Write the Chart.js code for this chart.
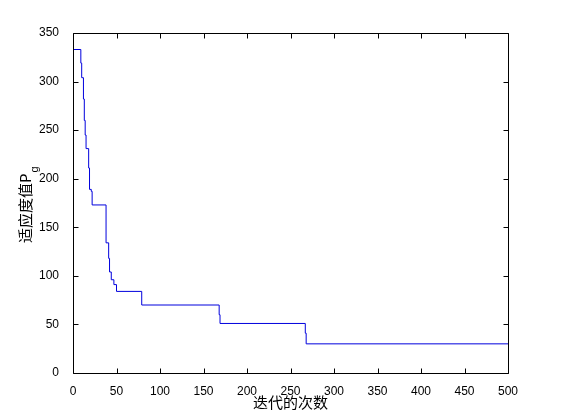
<!DOCTYPE html>
<html>
<head>
    <meta charset="utf-8">
    <title>适应度值曲线</title>
    <script src="https://cdn.jsdelivr.net/npm/chart.js"></script>
    <style>
        html, body { margin: 0; padding: 0; background: #fff; }
        #wrap { width: 561px; height: 420px; }
    </style>
</head>
<body>
    <div id="wrap"><canvas id="myChart" width="561" height="420"></canvas></div>
    <script>
        // iteration where the best value changes, and the new value from there on
        const iterations = [0, 9, 10, 12, 13, 14, 15, 18, 19, 21, 22, 38, 41, 42, 44, 47, 50, 79, 168, 169, 267, 268, 500];
        const fitness    = [333, 319, 304, 282, 260, 245, 231, 211, 189, 187, 173, 134, 118, 104, 96, 91, 84, 70, 60, 51, 41, 30, 30];
        const xTicks = [0, 50, 100, 150, 200, 250, 300, 350, 400, 450, 500];
        const yTicks = [0, 50, 100, 150, 200, 250, 300, 350];
        const xTitle = '迭代的次数';
        const yTitle = '适应度值P';
        const ySub = 'g';

        const tickFont = { family: 'Liberation Sans, Arial, sans-serif', size: 12 };
        const cjkFont = '"Noto Sans CJK SC", sans-serif';

        // caja y marcas hacia dentro, como en matlab
        const frame = {
            id: 'frame',
            afterDraw(chart) {
                const ctx = chart.ctx;
                const a = chart.chartArea;
                const xs = chart.scales.x, ys = chart.scales.y;
                const L = Math.round(a.left) + 0.5, R = Math.round(a.right) + 0.5;
                const T = Math.round(a.top) + 0.5, B = Math.round(a.bottom) + 0.5;
                ctx.save();
                ctx.strokeStyle = '#000';
                ctx.lineWidth = 1;
                ctx.beginPath();
                ctx.rect(L, T, R - L, B - T);
                xTicks.forEach(v => {
                    const px = Math.round(xs.getPixelForValue(v)) + 0.5;
                    ctx.moveTo(px, B); ctx.lineTo(px, B - 5);
                    ctx.moveTo(px, T); ctx.lineTo(px, T + 5);
                });
                yTicks.forEach(v => {
                    const py = Math.round(ys.getPixelForValue(v)) + 0.5;
                    ctx.moveTo(L, py); ctx.lineTo(L + 5, py);
                    ctx.moveTo(R, py); ctx.lineTo(R - 5, py);
                });
                ctx.stroke();

                // titulos de los ejes
                ctx.fillStyle = '#000';
                ctx.font = '15px ' + cjkFont;
                ctx.textAlign = 'center';
                ctx.textBaseline = 'middle';
                ctx.fillText(xTitle, (a.left + a.right) / 2, 402);

                ctx.translate(25, 243);
                ctx.rotate(-Math.PI / 2);
                ctx.textAlign = 'left';
                ctx.fillText(yTitle, 0, 0);
                const w = ctx.measureText(yTitle).width;
                ctx.font = '11px ' + tickFont.family;
                ctx.fillText(ySub, w + 1, 10);
                ctx.restore();
            }
        };

        const ctx = document.getElementById('myChart').getContext('2d');
        const myChart = new Chart(ctx, {
            type: 'line',
            data: {
                datasets: [{
                    data: iterations.map((it, i) => ({ x: it, y: fitness[i] })),
                    stepped: true,
                    borderColor: '#0000dd',
                    borderWidth: 1,
                    pointRadius: 0,
                    fill: false
                }]
            },
            options: {
                responsive: false,
                animation: false,
                events: [],
                layout: { padding: { left: 0, right: 53, top: 33, bottom: 0 } },
                plugins: { legend: { display: false }, tooltip: { enabled: false } },
                scales: {
                    x: {
                        type: 'linear',
                        min: 0, max: 500,
                        afterBuildTicks: s => { s.ticks = xTicks.map(v => ({ value: v })); },
                        afterFit: s => { s.height = 47; },
                        grid: { display: false },
                        border: { display: false },
                        ticks: { color: '#000', font: tickFont, padding: 3, maxRotation: 0 }
                    },
                    y: {
                        type: 'linear',
                        min: 0, max: 350,
                        afterBuildTicks: s => { s.ticks = yTicks.map(v => ({ value: v })); },
                        afterFit: s => { s.width = 73; },
                        grid: { display: false },
                        border: { display: false },
                        ticks: { color: '#000', font: tickFont, padding: 6 }
                    }
                }
            },
            plugins: [frame]
        });
    </script>
</body>
</html>
